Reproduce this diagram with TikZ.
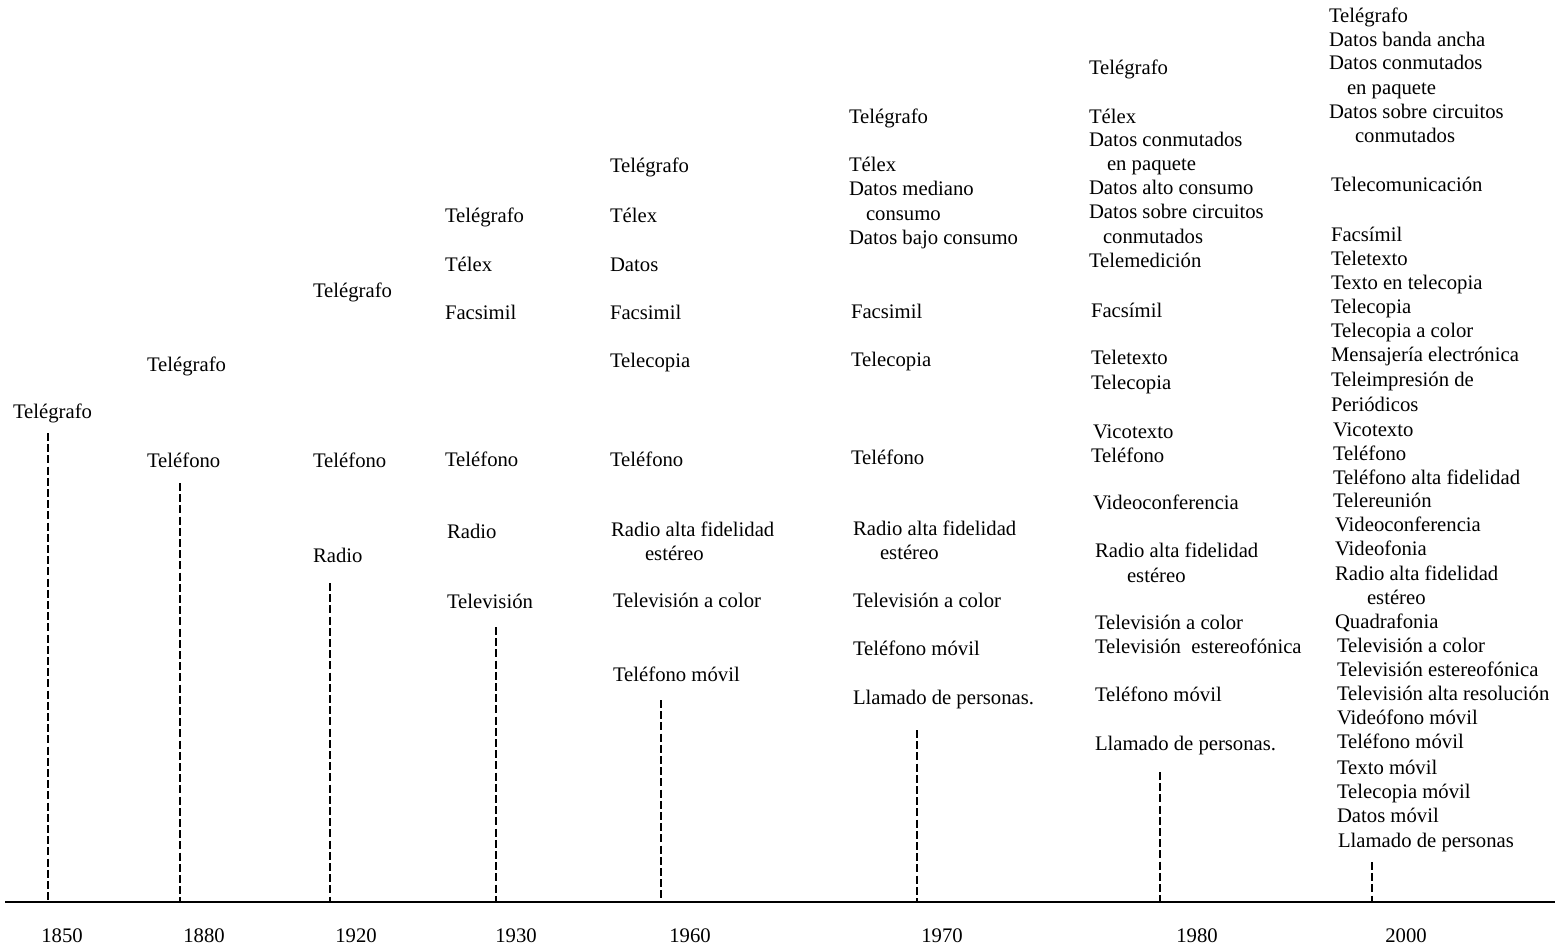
\documentclass[tikz,border=0pt]{standalone}
\usepackage{fontspec}
\setmainfont{Liberation Serif}
\newcommand{\itm}[4]{\node[lbl] (#1) at (#2,#3) {#4};}
\newcommand{\yr}[3]{\node[yrlbl] (#1) at (#2,936) {#3};}
\begin{document}
\begin{tikzpicture}[x=0.5pt,y=-0.5pt,
  lbl/.style={anchor=base west, inner sep=0pt, outer sep=0pt, yshift=-3pt, font=\fontsize{10.35}{12}\selectfont},
  yrlbl/.style={anchor=center, inner sep=0pt, font=\fontsize{10.35}{12}\selectfont},
  vdash/.style={line width=0.85pt, dash pattern=on 4pt off 1.6pt},
  axisline/.style={line width=1pt}]
\useasboundingbox (0,0) rectangle (1561,948);
% axis
\coordinate (axL) at (5,902);
\coordinate (axR) at (1555,902);
\draw[axisline] (axL) -- (axR);
% dashed markers
\foreach \nm/\xx/\yy in {a/48/433, b/180/483, c/330/583, d/496/627, e/661/700, f/917/730, g/1160/772, h/1372/862}{
  \coordinate (t\nm) at (\xx,\yy);
  \coordinate (b\nm) at (\xx,902);
  \draw[vdash] (t\nm) -- (b\nm);
}
% years
\yr{y1850}{62}{1850}
\yr{y1880}{204}{1880}
\yr{y1920}{356}{1920}
\yr{y1930}{516}{1930}
\yr{y1960}{690}{1960}
\yr{y1970}{942}{1970}
\yr{y1980}{1197}{1980}
\yr{y2000}{1406}{2000}
% 1850
\itm{a1}{13}{412}{Telégrafo}
% 1880
\itm{b1}{147}{365}{Telégrafo}
\itm{b2}{147}{461}{Teléfono}
% 1920
\itm{c1}{313}{291}{Telégrafo}
\itm{c2}{313}{461}{Teléfono}
\itm{c3}{313}{556}{Radio}
% 1930
\itm{d1}{445}{216}{Telégrafo}
\itm{d2}{445}{265}{Télex}
\itm{d3}{445}{313}{Facsimil}
\itm{d4}{445}{460}{Teléfono}
\itm{d5}{447}{532}{Radio}
\itm{d6}{447}{602}{Televisión}
% 1960
\itm{e1}{610}{166}{Telégrafo}
\itm{e2}{610}{216}{Télex}
\itm{e3}{610}{265}{Datos}
\itm{e4}{610}{313}{Facsimil}
\itm{e5}{610}{361}{Telecopia}
\itm{e6}{610}{460}{Teléfono}
\itm{e7}{611}{530}{Radio alta fidelidad}
\itm{e8}{645}{554}{estéreo}
\itm{e9}{613}{601}{Televisión a color}
\itm{e10}{613}{675}{Teléfono móvil}
% 1970
\itm{f1}{849}{117}{Telégrafo}
\itm{f2}{849}{165}{Télex}
\itm{f3}{849}{189}{Datos mediano}
\itm{f4}{866}{214}{consumo}
\itm{f5}{849}{238}{Datos bajo consumo}
\itm{f6}{851}{312}{Facsimil}
\itm{f7}{851}{360}{Telecopia}
\itm{f8}{851}{458}{Teléfono}
\itm{f9}{853}{529}{Radio alta fidelidad}
\itm{f10}{880}{553}{estéreo}
\itm{f11}{853}{601}{Televisión a color}
\itm{f12}{853}{649}{Teléfono móvil}
\itm{f13}{853}{698}{Llamado de personas.}
% 1980
\itm{g1}{1089}{68}{Telégrafo}
\itm{g2}{1089}{117}{Télex}
\itm{g3}{1089}{140}{Datos conmutados}
\itm{g4}{1107}{164}{en paquete}
\itm{g5}{1089}{188}{Datos alto consumo}
\itm{g6}{1089}{212}{Datos sobre circuitos}
\itm{g7}{1103}{237}{conmutados}
\itm{g8}{1089}{261}{Telemedición}
\itm{g9}{1091}{311}{Facsímil}
\itm{g10}{1091}{358}{Teletexto}
\itm{g11}{1091}{383}{Telecopia}
\itm{g12}{1093}{432}{Vicotexto}
\itm{g13}{1091}{456}{Teléfono}
\itm{g14}{1093}{503}{Videoconferencia}
\itm{g15}{1095}{551}{Radio alta fidelidad}
\itm{g16}{1127}{576}{estéreo}
\itm{g17}{1095}{623}{Televisión a color}
\itm{g18}{1095}{647}{Televisión\ \ estereofónica}
\itm{g19}{1095}{695}{Teléfono móvil}
\itm{g20}{1095}{744}{Llamado de personas.}
% 2000
\itm{h1}{1329}{16}{Telégrafo}
\itm{h2}{1329}{40}{Datos banda ancha}
\itm{h3}{1329}{63}{Datos conmutados}
\itm{h4}{1347}{88}{en paquete}
\itm{h5}{1329}{112}{Datos sobre circuitos}
\itm{h6}{1355}{136}{conmutados}
\itm{h7}{1331}{185}{Telecomunicación}
\itm{h8}{1331}{235}{Facsímil}
\itm{h9}{1331}{259}{Teletexto}
\itm{h10}{1331}{283}{Texto en telecopia}
\itm{h11}{1331}{307}{Telecopia}
\itm{h12}{1331}{331}{Telecopia a color}
\itm{h13}{1331}{355}{Mensajería electrónica}
\itm{h14}{1331}{380}{Teleimpresión de}
\itm{h15}{1331}{405}{Periódicos}
\itm{h16}{1333}{430}{Vicotexto}
\itm{h17}{1333}{454}{Teléfono}
\itm{h18}{1333}{478}{Teléfono alta fidelidad}
\itm{h19}{1333}{501}{Telereunión}
\itm{h20}{1335}{525}{Videoconferencia}
\itm{h21}{1335}{549}{Videofonia}
\itm{h22}{1335}{574}{Radio alta fidelidad}
\itm{h23}{1367}{598}{estéreo}
\itm{h24}{1335}{622}{Quadrafonia}
\itm{h25}{1337}{646}{Televisión a color}
\itm{h26}{1337}{670}{Televisión estereofónica}
\itm{h27}{1337}{694}{Televisión alta resolución}
\itm{h28}{1337}{718}{Videófono móvil}
\itm{h29}{1337}{742}{Teléfono móvil}
\itm{h30}{1337}{768}{Texto móvil}
\itm{h31}{1337}{792}{Telecopia móvil}
\itm{h32}{1337}{816}{Datos móvil}
\itm{h33}{1338}{841}{Llamado de personas}
\end{tikzpicture}
\end{document}
